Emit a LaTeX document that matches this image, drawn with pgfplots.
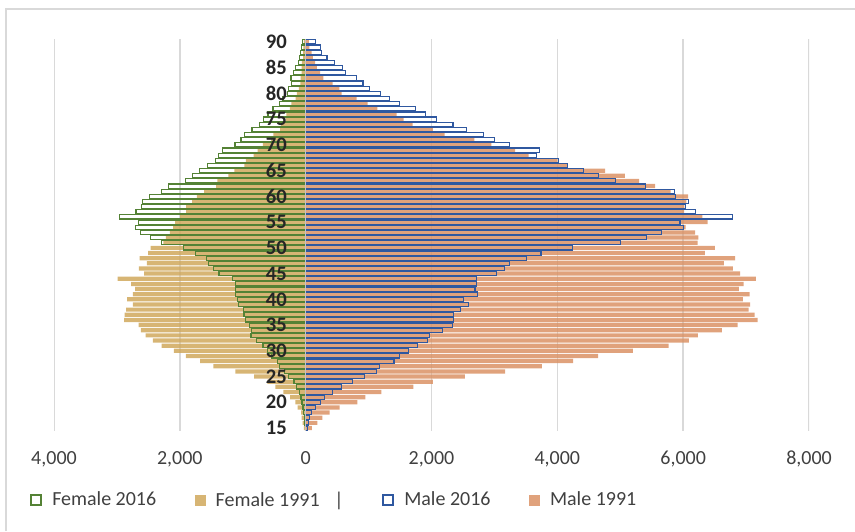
\documentclass[border=0pt]{standalone}
\usepackage{pgfplots}
\pgfplotsset{compat=1.18}
\usepackage{pgfplotstable}
\usepackage{fontspec}
\setmainfont{Carlito}
\definecolor{fgreen}{RGB}{84,130,53}
\definecolor{ftan}{RGB}{208,168,92}
\definecolor{mblue}{RGB}{47,88,160}
\definecolor{morange}{RGB}{218,146,101}
\definecolor{gridc}{RGB}{217,217,217}
\definecolor{zeroc}{RGB}{195,195,200}
\definecolor{txt}{RGB}{64,64,64}

% age  F2016  F1991  M2016  M1991  (female values negative)
\pgfplotstableread{
age f16 f91 m16 m91
90 -54 -30 150 50
89 -64 -35 230 60
88 -80 -40 250 95
87 -100 -40 340 115
86 -117 -60 460 150
85 -164 -65 590 180
84 -196 -65 630 230
83 -233 -80 810 280
82 -222 -85 910 430
81 -270 -110 1020 535
80 -291 -140 1195 570
79 -360 -160 1333 810
78 -418 -228 1497 985
77 -519 -250 1740 1140
76 -598 -307 1900 1445
75 -667 -320 2080 1555
74 -736 -390 2340 1700
73 -852 -408 2560 2020
72 -973 -513 2820 2210
71 -1027 -550 2995 2680
70 -1122 -680 3240 2950
69 -1318 -762 3720 3330
68 -1381 -826 3670 3545
67 -1434 -952 4015 4000
66 -1566 -975 4160 4150
65 -1688 -1132 4420 4760
64 -1793 -1227 4660 5075
63 -1904 -1402 4920 5300
62 -2185 -1423 5400 5555
61 -2296 -1614 5865 5800
60 -2487 -1730 5883 6080
59 -2598 -1804 6083 6050
58 -2608 -1900 6040 6020
57 -2698 -1900 6195 6015
56 -2963 -1995 6780 6305
55 -2661 -2074 5950 6390
54 -2709 -2106 6005 6040
53 -2630 -2159 5660 6190
52 -2465 -2222 5423 6240
51 -2291 -2260 5005 6230
50 -1936 -2465 4240 6505
49 -1757 -2503 3740 6345
48 -1571 -2640 3510 6825
47 -1540 -2524 3245 6645
46 -1466 -2651 3165 6790
45 -1376 -2566 3030 6905
44 -1164 -2989 2715 7155
43 -1111 -2773 2710 6960
42 -1111 -2709 2690 6885
41 -1111 -2746 2725 7055
40 -1079 -2836 2510 6950
39 -1063 -2746 2590 7065
38 -989 -2852 2455 7040
37 -979 -2878 2355 7135
36 -957 -2884 2355 7185
35 -894 -2656 2330 6865
34 -857 -2619 2180 6615
33 -868 -2545 1970 6235
32 -783 -2429 1930 6090
31 -677 -2291 1780 5770
30 -603 -2095 1630 5200
29 -545 -1905 1490 4650
28 -445 -1677 1405 4250
27 -418 -1466 1175 3755
26 -339 -1116 1125 3170
25 -270 -820 940 2530
24 -185 -609 750 2020
23 -143 -482 565 1710
22 -101 -355 430 1205
21 -74 -249 300 950
20 -58 -164 240 820
19 -42 -127 155 540
18 -32 -74 90 380
17 -16 -64 65 265
16 -10 -48 48 185
15 -5 -30 30 100
}\pyr

\begin{document}
\begin{tikzpicture}
\path[use as bounding box] (0,0) rectangle (641.25pt,398.25pt);
\draw[gridc, line width=1.2pt] (4.5pt,0) -- (4.5pt,391.5pt) -- (641.25pt,391.5pt);
\begin{axis}[
  axis on top,
  at={(40.5pt,75.3pt)}, anchor=south west,
  scale only axis, width=566.25pt, height=293.4pt,
  xmin=-4000, xmax=8000, ymin=14.5, ymax=90.5,
  xtick={-4000,-2000,0,2000,4000,6000,8000},
  xticklabels={{4,000},{2,000},0,{2,000},{4,000},{6,000},{8,000}},
  ytick={15,20,...,90},
  /pgf/number format/assume math mode=true,
  axis line style={draw=none},
  major tick length=0pt,
  xticklabel style={font=\fontsize{15}{18}\selectfont, text=txt, yshift=-12pt},
  yticklabel style={font=\fontsize{15.5}{18}\selectfont\bfseries, text=black!85, anchor=east, inner xsep=0pt, xshift=174.75pt},
  xbar, bar shift=0pt, bar width=0.82,
  legend columns=4,
  legend image code/.code={\draw[#1] (0pt,-3.75pt) rectangle (7.5pt,3.75pt);},
  legend style={at={(axis description cs:-0.0318,-0.1774)}, anchor=west,
    draw=none, fill=none, inner sep=0pt,
    /tikz/every odd column/.append style={column sep=8pt},
    /tikz/every even column/.append style={column sep=29pt},
    nodes={inner xsep=0pt, font=\fontsize{15}{18}\selectfont, text=txt}},
]
\addlegendimage{draw=fgreen, fill=none, line width=1pt}
\addlegendentry{Female 2016}
\addlegendimage{draw=ftan!85!white, line width=0.1pt, fill=ftan!85!white}
\addlegendentry{Female 1991\hspace{11pt}|\hspace{8pt}}
\addlegendimage{draw=mblue, fill=none, line width=1pt}
\addlegendentry{Male 2016}
\addlegendimage{draw=morange!85!white, line width=0.1pt, fill=morange!85!white}
\addlegendentry{Male 1991}

\pgfplotsinvokeforeach{-4000,-2000,2000,4000,6000,8000}{
  \draw[gridc, line width=1.2pt] (axis cs:#1,14.5) -- (axis cs:#1,90.5);
}
\addplot[forget plot, draw=none, fill=ftan, fill opacity=0.85] table[x=f91, y=age] {\pyr};
\addplot[forget plot, draw=none, fill=morange, fill opacity=0.85] table[x=m91, y=age] {\pyr};
\addplot[forget plot, draw=fgreen, fill=none, line width=0.9pt] table[x=f16, y=age] {\pyr};
\addplot[forget plot, draw=mblue, fill=none, line width=0.9pt] table[x=m16, y=age] {\pyr};
\draw[zeroc, line width=1.1pt] (axis cs:0,14.5) -- (axis cs:0,90.5);
\end{axis}
\end{tikzpicture}
\end{document}
